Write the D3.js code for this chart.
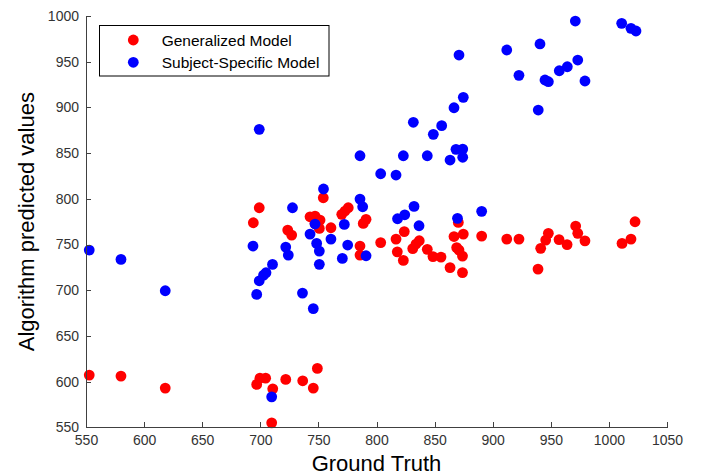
<!DOCTYPE html>
<html>
<head>
<meta charset="utf-8">
<script src="https://cdn.jsdelivr.net/npm/d3@7"></script>
<style>
  html, body { margin: 0; padding: 0; background: #fff; }
  svg { display: block; font-family: "Liberation Sans", Arial, Helvetica, sans-serif; }
</style>
</head>
<body>
<svg id="chart" width="704" height="475"></svg>
<script>
// ---- data ----
const generalizedGT = [552.8,580.1,618.2,696.9,699.7,704.6,710.7,709.8,721.9,736.5,745.6,749.1,694.0,699.1,723.6,727.0,742.8,747.1,751.4,750.8,747.1,754.2,760.8,770.1,772.9,775.7,788.6,791.0,785.8,785.8,803.6,816.8,823.9,817.9,823.1,831.2,834.0,836.8,843.7,848.6,855.5,863.3,866.7,874.7,870.4,869.0,871.0,874.0,874.0,890.5,912.1,922.6,947.9,945.6,941.3,939.0,957.1,964.0,971.4,973.2,979.4,1011.3,1019.0,1022.5];
const generalizedPred = [607.1,606.0,592.9,596.9,603.8,603.8,592.1,554.9,602.4,600.9,592.9,614.4,773.8,790.2,765.8,760.3,780.3,781.1,776.7,767.6,773.1,801.1,768.3,783.0,786.6,790.2,773.1,777.5,748.3,738.4,752.1,755.9,764.1,742.0,732.6,745.5,750.5,754.1,744.7,736.8,736.2,724.7,758.7,761.4,774.2,746.6,743.9,737.3,719.3,759.2,755.9,755.9,762.2,754.8,745.8,723.1,755.4,749.9,770.2,762.2,754.0,751.2,755.9,774.9];
const subjectGT = [552.8,580.1,618.2,693.7,696.9,699.1,702.8,704.9,710.5,699.1,721.9,724.1,727.7,736.3,745.6,742.8,747.1,748.5,750.8,750.8,760.8,754.4,770.6,772.3,775.2,709.8,785.8,788.1,791.0,803.6,816.8,818.1,824.3,832.3,836.6,869.7,890.5,785.8,823.1,843.7,863.3,868.4,874.2,874.2,831.7,848.9,856.1,866.7,874.7,871.0,912.1,922.6,940.7,939.2,945.0,947.9,957.3,964.2,973.2,979.4,971.1,1011.0,1019.0,1023.3];
const subjectPred = [743.9,733.7,699.4,748.3,695.4,710.3,716.5,719.1,728.2,876.0,747.2,738.4,790.2,696.8,679.9,761.4,772.4,751.2,742.8,728.3,755.9,810.7,734.8,772.0,749.4,583.3,799.7,791.3,737.7,827.4,826.0,778.2,782.5,791.7,770.5,778.6,786.3,847.1,847.1,847.1,842.4,854.1,854.4,845.4,883.7,870.5,880.0,899.6,911.0,957.3,962.8,935.1,969.4,897.1,930.0,928.1,940.1,944.5,951.8,928.9,994.5,992.0,986.5,983.6];
const xTicks = [550,600,650,700,750,800,850,900,950,1000,1050];
const yTicks = [550,600,650,700,750,800,850,900,950,1000];
const seriesNames = ["Generalized Model", "Subject-Specific Model"];
const seriesColors = ["#ff0000", "#0000ff"];

// ---- layout ----
const svg = d3.select("#chart");
const x = d3.scaleLinear().domain([550, 1050]).range([86, 667]);
const y = d3.scaleLinear().domain([550, 1000]).range([427.3, 16]);
const axisColor = "#404040";

// points: red first, blue on top
const series = [
  d3.zip(generalizedGT, generalizedPred),
  d3.zip(subjectGT, subjectPred)
];
series.forEach((pts, i) => {
  svg.append("g").selectAll("circle").data(pts).join("circle")
    .attr("cx", d => x(d[0]))
    .attr("cy", d => y(d[1]))
    .attr("r", 5.4)
    .attr("fill", seriesColors[i]);
});

// axes
const gx = svg.append("g").attr("transform", `translate(0,${y(550)})`)
  .call(d3.axisBottom(x).tickValues(xTicks).tickFormat(d3.format("d"))
    .tickSizeInner(-5).tickSizeOuter(0).tickPadding(8));
const gy = svg.append("g").attr("transform", `translate(${x(550)},0)`)
  .call(d3.axisLeft(y).tickValues(yTicks).tickFormat(d3.format("d"))
    .tickSizeInner(-5).tickSizeOuter(0).tickPadding(7));
[gx, gy].forEach(g => {
  g.select(".domain").attr("stroke", axisColor).attr("shape-rendering", "crispEdges");
  g.selectAll(".tick line").attr("stroke", axisColor).attr("shape-rendering", "crispEdges");
  g.selectAll(".tick text").attr("fill", "#333").style("font-size", "14px")
    .style("font-family", '"Liberation Sans", Arial, sans-serif');
});

// axis labels
svg.append("text")
  .attr("x", (x(550) + x(1050)) / 2).attr("y", 471)
  .attr("text-anchor", "middle").attr("fill", "#000")
  .style("font-size", "22px").text("Ground Truth");
svg.append("text")
  .attr("transform", `translate(34,${(y(550) + y(1000)) / 2}) rotate(-90)`)
  .attr("text-anchor", "middle").attr("fill", "#000")
  .style("font-size", "22px").text("Algorithm predicted values");

// legend
const lg = svg.append("g");
lg.append("rect").attr("x", 99.5).attr("y", 25.5).attr("width", 229.5).attr("height", 50.5)
  .attr("fill", "#fff").attr("stroke", "#000").attr("stroke-width", 1);
seriesNames.forEach((name, i) => {
  const cy = 40 + i * 22.3;
  lg.append("circle").attr("cx", 133.3).attr("cy", cy).attr("r", 5.4).attr("fill", seriesColors[i]);
  lg.append("text").attr("x", 161.7).attr("y", cy + 6).attr("fill", "#000")
    .style("font-size", "15.5px").text(name);
});
</script>
</body>
</html>
